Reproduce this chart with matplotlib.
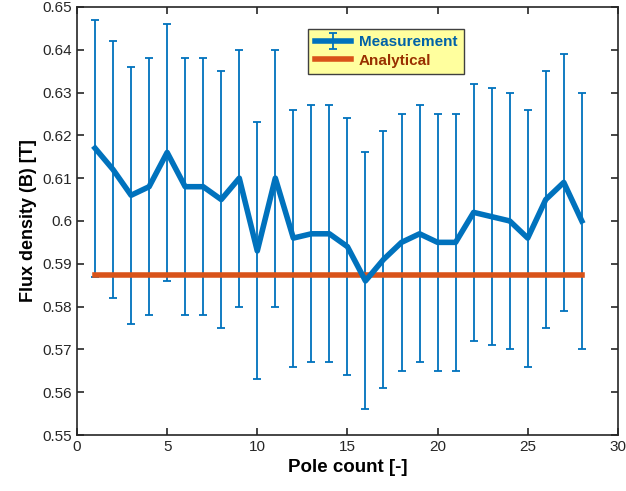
import numpy as np
import matplotlib.pyplot as plt

plt.rcParams['font.family'] = ['Liberation Sans', 'DejaVu Sans']

# 测量数据：极数 vs 磁通密度
pole = np.arange(1, 29)
flux_mean = [0.617, 0.612, 0.606, 0.608, 0.616, 0.608, 0.608, 0.605, 0.610, 0.593,
             0.610, 0.596, 0.597, 0.597, 0.594, 0.586, 0.591, 0.595, 0.597, 0.595,
             0.595, 0.602, 0.601, 0.600, 0.596, 0.605, 0.609, 0.600]
flux_err = [0.030] * 28
analytical = 0.5873

fig = plt.figure(figsize=(6.26, 4.91), dpi=100)
ax = fig.add_axes([0.123, 0.114, 0.864, 0.872])

meas = ax.errorbar(pole, flux_mean, yerr=flux_err, color='#0072BD', lw=4,
                   elinewidth=1.3, capsize=3, capthick=1.3, label='Measurement')
ana, = ax.plot([pole[0], pole[-1]], [analytical, analytical], color='#D95319',
               lw=4, label='Analytical')

ax.set_xlim(0, 30)
ax.set_ylim(0.55, 0.65)
ax.set_xticks(np.arange(0, 31, 5))
ax.set_yticks(np.arange(0.55, 0.651, 0.01))
ax.set_yticklabels(['0.55', '0.56', '0.57', '0.58', '0.59', '0.6',
                    '0.61', '0.62', '0.63', '0.64', '0.65'])
ax.tick_params(direction='in', top=True, right=True, labelsize=11, width=1.2,
               length=5, colors='#262626')
for s in ax.spines.values():
    s.set_linewidth(1.2)
    s.set_color('#262626')

ax.set_xlabel('Pole count [-]', fontsize=13.5, fontweight='bold')
ax.set_ylabel('Flux density (B) [T]', fontsize=13, fontweight='bold')

leg = ax.legend([meas, ana], ['Measurement', 'Analytical'], loc='upper left',
                bbox_to_anchor=(0.428, 0.948), prop={'weight': 'bold', 'size': 11},
                fancybox=False, framealpha=1, handlelength=2.4, borderpad=0.4,
                labelspacing=0.3, handletextpad=0.5, borderaxespad=0)
leg.get_frame().set_facecolor('#FFFF9E')
leg.get_frame().set_edgecolor('#404040')
leg.get_texts()[0].set_color('#0062A8')
leg.get_texts()[1].set_color('#993000')

plt.savefig('out.png', dpi=100)
